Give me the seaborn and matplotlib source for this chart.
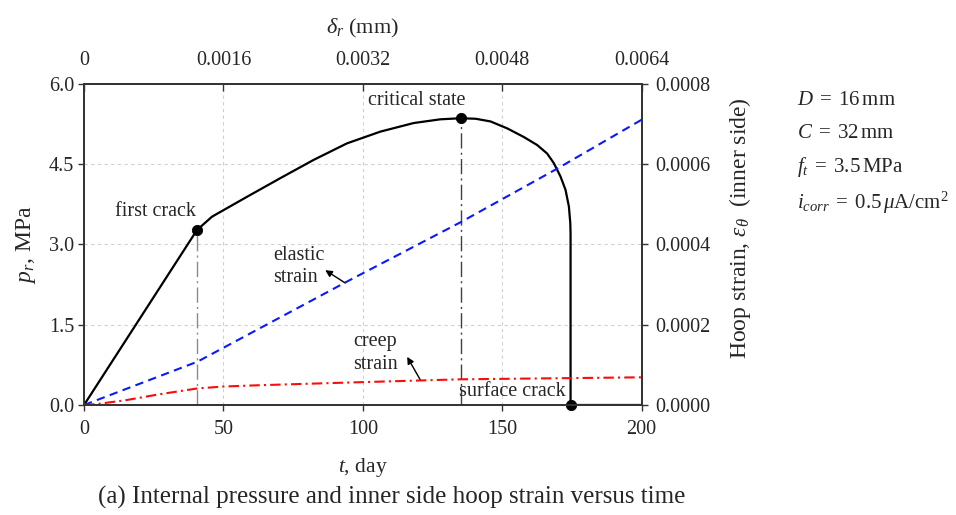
import numpy as np
import pandas as pd
import matplotlib
matplotlib.use("Agg")
import matplotlib.pyplot as plt
from matplotlib.ticker import FixedLocator, FixedFormatter, FormatStrFormatter
import seaborn as sns

# ---- data -------------------------------------------------------------
# internal pressure p_r (MPa) versus time t (day)
press_t = [0, 40.5, 45.9, 58.4, 70.4, 82.3, 94.3, 106.3, 118.2, 127.8, 135.2,
           140.5, 145.8, 151.8, 157.7, 162.5, 166.1, 168.5, 170.9, 172.7,
           173.9, 174.4, 174.5, 174.5, 200]
press_p = [0, 3.27, 3.52, 3.89, 4.24, 4.58, 4.89, 5.11, 5.27, 5.34, 5.36,
           5.35, 5.30, 5.17, 5.01, 4.86, 4.70, 4.52, 4.27, 4.02,
           3.71, 3.40, 3.20, 0.0, 0.0]

# inner side hoop strain components
elastic_t = [0, 40.7, 95.5, 135.2, 169.7, 200]
elastic_eps = [0, 1.08e-4, 3.12e-4, 4.56e-4, 5.89e-4, 7.11e-4]

creep_t = [0, 5, 15, 27, 40.7, 50, 63, 95, 135, 200]
creep_eps = [0, 0.27e-5, 1.2e-5, 2.67e-5, 4.13e-5, 4.6e-5, 4.93e-5,
             5.6e-5, 6.4e-5, 6.9e-5]

# characteristic states on the pressure curve
event_names = ["first crack", "critical state", "surface crack"]
event_t = [40.5, 135.2, 174.5]
event_p = [3.27, 5.36, 0.0]

# axis ticks
t_ticks = [0, 50, 100, 150, 200]
p_ticks = [0.0, 1.5, 3.0, 4.5, 6.0]
eps_ticks = [0.0, 0.0002, 0.0004, 0.0006, 0.0008]
delta_ticks = [0, 0.0016, 0.0032, 0.0048, 0.0064]
delta_labels = ["0", "0.0016", "0.0032", "0.0048", "0.0064"]

params = [r"$D\;=\;16\,\mathrm{mm}$",
          r"$C\;=\;32\,\mathrm{mm}$",
          r"$f_t\;=\;3.5\,\mathrm{MPa}$",
          r"$i_{corr}\;=\;0.5\,\mu\mathrm{A/cm}^2$"]
param_y = [0.796, 0.7314, 0.6666, 0.5955]

# ---- style ------------------------------------------------------------
sns.set_style("white")
plt.rcParams["font.family"] = ["Liberation Serif", "DejaVu Serif"]
plt.rcParams["mathtext.fontset"] = "custom"
plt.rcParams["mathtext.rm"] = "Liberation Serif"
plt.rcParams["mathtext.it"] = "Liberation Serif:italic"
plt.rcParams["mathtext.bf"] = "Liberation Serif:bold"

FS = 14.5
spine_c = "#333333"

fig = plt.figure(figsize=(9.56, 5.15), dpi=100)
ax = fig.add_axes([0.0879, 0.2136, 0.5833, 0.6233])

press_df = pd.DataFrame({"t": press_t, "p": press_p})
elastic_df = pd.DataFrame({"t": elastic_t, "eps": elastic_eps})
creep_df = pd.DataFrame({"t": creep_t, "eps": creep_eps})
event_df = pd.DataFrame({"t": event_t, "p": event_p, "name": event_names})

# pressure curve
sns.lineplot(data=press_df, x="t", y="p", ax=ax, estimator=None, sort=False,
             color="black", lw=1.6, zorder=4)

# vertical guides at first crack and critical state
for (tt, pp, col) in zip(event_t[:2], event_p[:2], ["#8a8a8a", "#404040"]):
    ax.plot([tt, tt], [0, pp], color=col, lw=1.0,
            dashes=(11, 3, 1.5, 3), zorder=3)

sns.scatterplot(data=event_df, x="t", y="p", ax=ax, color="black", s=55,
                edgecolor="black", zorder=6, clip_on=False, legend=False)

ax.set_xlim(0, 200)
ax.set_ylim(0, 6.0)
ax.xaxis.set_major_locator(FixedLocator(t_ticks))
ax.yaxis.set_major_locator(FixedLocator(p_ticks))
ax.yaxis.set_major_formatter(FormatStrFormatter("%.1f"))
ax.grid(True, color="#d0d0d0", lw=0.8, ls=(0, (3, 3)))
ax.set_xlabel(r"$t$, day", fontsize=FS + 1, labelpad=12)
ax.set_ylabel(r"$p_r$, MPa", fontsize=FS + 2.5, labelpad=8)
ax.tick_params(axis="x", direction="out", length=4, width=1, pad=7,
               labelsize=FS, color=spine_c)
ax.tick_params(axis="y", direction="out", length=4, width=1, pad=3,
               labelsize=FS, color=spine_c)

# strain axis (right)
ax2 = ax.twinx()
sns.lineplot(data=elastic_df, x="t", y="eps", ax=ax2, estimator=None,
             sort=False, color="#0a1aff", lw=1.5)
ax2.lines[-1].set_dashes((4, 2.6))
sns.lineplot(data=creep_df, x="t", y="eps", ax=ax2, estimator=None,
             sort=False, color="#ff0a0a", lw=1.5)
ax2.lines[-1].set_dashes((5, 2, 1, 2))
ax2.set_ylim(0, 0.0008)
ax2.yaxis.set_major_locator(FixedLocator(eps_ticks))
ax2.yaxis.set_major_formatter(FormatStrFormatter("%.4f"))
ax2.set_ylabel(r"Hoop strain, $\varepsilon_\theta$  (inner side)",
               fontsize=FS + 2.5)
ax2.yaxis.set_label_coords(1.153, 0.55)
ax2.tick_params(axis="y", direction="out", length=4, width=1, pad=6,
                labelsize=FS, color=spine_c)
ax2.set_xlabel("")

# displacement axis (top)
ax3 = ax.twiny()
ax3.set_xlim(delta_ticks[0], delta_ticks[-1])
ax3.xaxis.set_major_locator(FixedLocator(delta_ticks))
ax3.xaxis.set_major_formatter(FixedFormatter(delta_labels))
ax3.set_xlabel(r"$\delta_r$ (mm)", fontsize=FS + 1.5, labelpad=13)
ax3.tick_params(axis="x", direction="in", length=5, width=1, pad=10,
                labelsize=FS, color=spine_c)

for a in (ax, ax2, ax3):
    for s in a.spines.values():
        s.set_color(spine_c)
        s.set_linewidth(1.1)

# event labels
ax.text(40.0, 3.62, event_names[0], ha="right", va="center", fontsize=FS)
ax.text(119.2, 5.70, event_names[1], ha="center", va="center", fontsize=FS)
ax.text(153.7, 0.25, event_names[2], ha="center", va="center", fontsize=FS)

# strain component labels with pointer arrows
arrow = dict(arrowstyle="-|>", color="black", lw=1.0, mutation_scale=10,
             shrinkA=0, shrinkB=0)
ax.annotate("", xy=(86.5, 2.52), xytext=(93.7, 2.28), arrowprops=arrow)
ax.text(67.9, 2.59, "elastic\nstrain", ha="left", va="center",
        fontsize=FS, linespacing=1.25)
ax.annotate("", xy=(115.9, 0.90), xytext=(120.6, 0.47), arrowprops=arrow)
ax.text(96.5, 0.97, "creep\nstrain", ha="left", va="center",
        fontsize=FS, linespacing=1.25)

# parameter block
for s, yy in zip(params, param_y):
    fig.text(0.834, yy, s, fontsize=FS + 0.5, ha="left", va="baseline")

fig.text(0.41, 0.022,
         "(a) Internal pressure and inner side hoop strain versus time",
         ha="center", va="baseline", fontsize=FS + 3.5)

fig.savefig("out.png", dpi=100)
